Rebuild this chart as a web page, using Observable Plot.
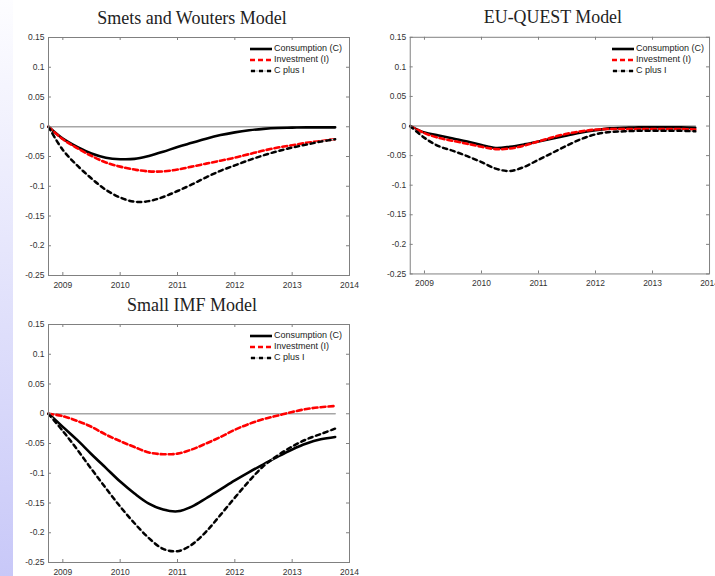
<!DOCTYPE html>
<html><head><meta charset="utf-8">
<script src="https://cdn.jsdelivr.net/npm/d3@7"></script>
<script src="https://cdn.jsdelivr.net/npm/@observablehq/plot@0.6"></script>
<style>
body{margin:0;background:#fff;}
#wrap{position:relative;width:715px;height:576px;overflow:hidden;background:#fff;}
#strip{position:absolute;left:0;top:0;width:13px;height:576px;background:linear-gradient(#fdfdff,#c8c8f8);}
.panel{position:absolute;}
.legend{position:absolute;font:9px "Liberation Sans",Arial,sans-serif;color:#222;line-height:11px;}
.legend .row{display:flex;align-items:center;height:11px;white-space:nowrap;}
.legend svg{margin-right:1px;}
</style>
</head><body>
<div id="wrap"><div id="strip"></div></div>
<script>
// ---- data ----
const quarters = [2008.75, 2009, 2009.25, 2009.5, 2009.75, 2010, 2010.25, 2010.5, 2010.75, 2011,
  2011.25, 2011.5, 2011.75, 2012, 2012.25, 2012.5, 2012.75, 2013, 2013.25, 2013.5, 2013.75];
const xTicks = [2009, 2010, 2011, 2012, 2013, 2014];
const xTickLabels = ["2009", "2010", "2011", "2012", "2013", "2014"];
const yTicks = [0.15, 0.1, 0.05, 0, -0.05, -0.1, -0.15, -0.2, -0.25];
const yTickLabels = ["0.15", "0.1", "0.05", "0", "-0.05", "-0.1", "-0.15", "-0.2", "-0.25"];
const seriesNames = ["Consumption (C)", "Investment (I)", "C plus I"];
const titles = ["Smets and Wouters Model", "EU-QUEST Model", "Small IMF Model"];

const swC  = [0, -0.020, -0.034, -0.045, -0.052, -0.0545, -0.054, -0.049, -0.042, -0.034, -0.027, -0.020, -0.014, -0.0095, -0.006, -0.0035, -0.002, -0.0015, -0.001, -0.001, -0.001];
const swI  = [0, -0.021, -0.036, -0.049, -0.060, -0.067, -0.072, -0.075, -0.075, -0.072, -0.067, -0.062, -0.057, -0.052, -0.046, -0.040, -0.035, -0.031, -0.027, -0.024, -0.021];
const swCI = [0, -0.039, -0.065, -0.087, -0.106, -0.119, -0.126, -0.125, -0.118, -0.108, -0.097, -0.085, -0.074, -0.065, -0.056, -0.048, -0.041, -0.035, -0.030, -0.025, -0.021];

const euC  = [0, -0.011, -0.016, -0.021, -0.026, -0.032, -0.037, -0.035, -0.031, -0.026, -0.021, -0.016, -0.011, -0.007, -0.004, -0.003, -0.002, -0.002, -0.002, -0.002, -0.003];
const euI  = [0, -0.012, -0.020, -0.025, -0.030, -0.035, -0.039, -0.038, -0.033, -0.026, -0.019, -0.013, -0.009, -0.006, -0.005, -0.005, -0.005, -0.005, -0.005, -0.005, -0.006];
const euCI = [0, -0.020, -0.034, -0.042, -0.051, -0.061, -0.072, -0.076, -0.069, -0.057, -0.045, -0.033, -0.022, -0.014, -0.010, -0.009, -0.008, -0.008, -0.008, -0.008, -0.009];

const imfC  = [0, -0.022, -0.044, -0.068, -0.091, -0.114, -0.134, -0.151, -0.161, -0.164, -0.156, -0.142, -0.127, -0.112, -0.098, -0.085, -0.072, -0.060, -0.050, -0.043, -0.039];
const imfI  = [0, -0.004, -0.012, -0.022, -0.035, -0.046, -0.056, -0.065, -0.068, -0.067, -0.060, -0.050, -0.039, -0.027, -0.017, -0.009, -0.003, 0.003, 0.008, 0.011, 0.013];
const imfCI = [0, -0.029, -0.060, -0.093, -0.125, -0.156, -0.184, -0.209, -0.227, -0.231, -0.220, -0.198, -0.170, -0.141, -0.113, -0.088, -0.070, -0.055, -0.043, -0.034, -0.025];

// ---- layout ----
const W = 355, H = 290, ML = 48, MR = 6, MT = 37, MB = 15;
const FW = W - ML - MR, FH = H - MT - MB;
const axisGray = "#808080";

function makePanel(title, C, I, CI) {
  const rows = quarters.map((q, i) => ({q, C: C[i], I: I[i], CI: CI[i]}));
  return Plot.plot({
    width: W, height: H,
    marginLeft: ML, marginRight: MR, marginTop: MT, marginBottom: MB,
    style: {background: "transparent", fontFamily: "'Liberation Sans', Arial, sans-serif", fontSize: "8.5px", color: "#333", overflow: "visible"},
    x: {domain: [2008.75, 2014]},
    y: {domain: [-0.25, 0.15]},
    marks: [
      Plot.frame({fill: "white", stroke: "none"}),
      Plot.line(rows, {x: "q", y: () => 0, stroke: "#a6a6a6", strokeWidth: 1.6}),
      Plot.line(rows, {x: "q", y: "C", stroke: "black", strokeWidth: 2.6, curve: "catmull-rom"}),
      Plot.line(rows, {x: "q", y: "I", stroke: "#ff0000", strokeWidth: 2.6, strokeDasharray: "5,3", curve: "catmull-rom"}),
      Plot.line(rows, {x: "q", y: "CI", stroke: "#c4c4c4", strokeWidth: 1.3, curve: "catmull-rom"}),
      Plot.line(rows, {x: "q", y: "CI", stroke: "black", strokeWidth: 2.5, strokeDasharray: "4,4", curve: "catmull-rom"}),
      Plot.frame({stroke: axisGray, strokeWidth: 1}),
      Plot.ruleX(xTicks, {x: d => d, insetTop: FH - 3, stroke: axisGray}),
      Plot.ruleX(xTicks, {x: d => d, insetBottom: FH - 3, stroke: axisGray}),
      Plot.ruleY(yTicks, {y: d => d, insetRight: FW - 3, stroke: axisGray}),
      Plot.ruleY(yTicks, {y: d => d, insetLeft: FW - 3, stroke: axisGray}),
      Plot.axisX({ticks: xTicks, tickSize: 0, tickPadding: 6, tickFormat: d => xTickLabels[xTicks.indexOf(d)], label: null, fill: "#333"}),
      Plot.axisY({ticks: yTicks, tickSize: 0, tickPadding: 4, tickFormat: d => yTickLabels[yTicks.indexOf(d)], label: null, fill: "#333"}),
      Plot.text([title], {text: d => d, frameAnchor: "top", dx: -7, dy: -14, lineAnchor: "bottom",
        fontFamily: "'Liberation Serif', 'Times New Roman', serif", fontSize: 18, fill: "#222"})
    ]
  });
}

function makeLegend() {
  const div = document.createElement("div");
  div.className = "legend";
  const samples = [
    `<line x1="0" y1="5" x2="22" y2="5" stroke="black" stroke-width="2.6"/>`,
    `<line x1="0" y1="5" x2="22" y2="5" stroke="#ff0000" stroke-width="2.6" stroke-dasharray="5,3"/>`,
    `<line x1="0" y1="5" x2="22" y2="5" stroke="#c4c4c4" stroke-width="1.3"/><line x1="1" y1="5" x2="22" y2="5" stroke="black" stroke-width="2.5" stroke-dasharray="4,4"/>`
  ];
  seriesNames.forEach((name, i) => {
    const row = document.createElement("div");
    row.className = "row";
    row.innerHTML = `<svg width="23" height="10">${samples[i]}</svg><span>${name}</span>`;
    div.appendChild(row);
  });
  return div;
}

const wrap = document.getElementById("wrap");
const panels = [
  {left: 0, top: 0, title: titles[0], C: swC, I: swI, CI: swCI},
  {left: 362, top: 0, title: titles[1], C: euC, I: euI, CI: euCI},
  {left: 0, top: 287, title: titles[2], C: imfC, I: imfI, CI: imfCI}
];
for (const p of panels) {
  const holder = document.createElement("div");
  holder.className = "panel";
  holder.style.left = p.left + "px";
  holder.style.top = p.top + "px";
  holder.appendChild(makePanel(p.title, p.C, p.I, p.CI));
  wrap.appendChild(holder);
  const lg = makeLegend();
  lg.style.left = (p.left + ML + FW - 99) + "px";
  lg.style.top = (p.top + MT + 6) + "px";
  wrap.appendChild(lg);
}
</script>
</body></html>
